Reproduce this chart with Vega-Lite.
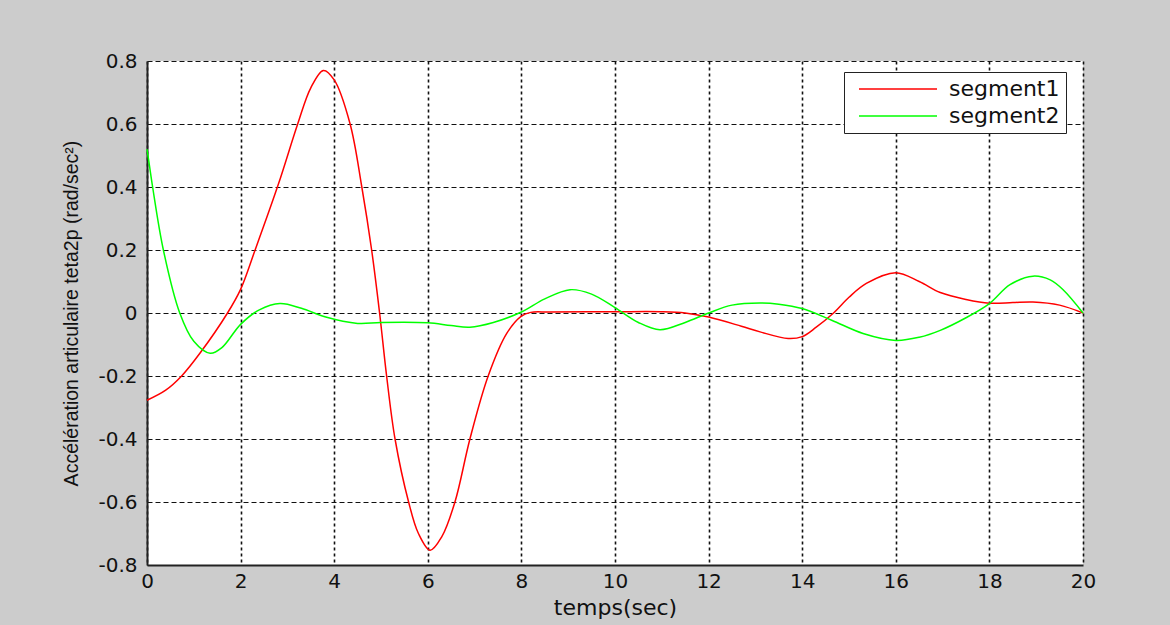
{
  "$schema": "https://vega.github.io/schema/vega-lite/v6.json",
  "width": 936,
  "height": 504,
  "autosize": {"type": "none"},
  "padding": {"left": 147, "top": 61, "right": 87, "bottom": 60},
  "background": "#cccccc",
  "config": {
    "view": {"fill": "white", "stroke": null},
    "axis": {"labelColor": "#111", "titleColor": "#111", "domainColor": "#222", "gridColor": "#111", "gridOpacity": 1, "ticks": false}
  },
  "data": {"values": [
    {"t": 0, "v": -0.277, "s": "segment1"},
    {"t": 0.4, "v": -0.245, "s": "segment1"},
    {"t": 0.74, "v": -0.2, "s": "segment1"},
    {"t": 1.13, "v": -0.128, "s": "segment1"},
    {"t": 1.72, "v": 0, "s": "segment1"},
    {"t": 2.0, "v": 0.075, "s": "segment1"},
    {"t": 2.31, "v": 0.2, "s": "segment1"},
    {"t": 2.81, "v": 0.41, "s": "segment1"},
    {"t": 3.22, "v": 0.6, "s": "segment1"},
    {"t": 3.5, "v": 0.715, "s": "segment1"},
    {"t": 3.77, "v": 0.77, "s": "segment1"},
    {"t": 4.0, "v": 0.74, "s": "segment1"},
    {"t": 4.34, "v": 0.6, "s": "segment1"},
    {"t": 4.59, "v": 0.4, "s": "segment1"},
    {"t": 4.8, "v": 0.2, "s": "segment1"},
    {"t": 4.97, "v": 0, "s": "segment1"},
    {"t": 5.12, "v": -0.2, "s": "segment1"},
    {"t": 5.3, "v": -0.4, "s": "segment1"},
    {"t": 5.59, "v": -0.6, "s": "segment1"},
    {"t": 5.8, "v": -0.7, "s": "segment1"},
    {"t": 6.05, "v": -0.753, "s": "segment1"},
    {"t": 6.3, "v": -0.71, "s": "segment1"},
    {"t": 6.58, "v": -0.6, "s": "segment1"},
    {"t": 6.9, "v": -0.4, "s": "segment1"},
    {"t": 7.29, "v": -0.2, "s": "segment1"},
    {"t": 7.69, "v": -0.064, "s": "segment1"},
    {"t": 8.0, "v": -0.01, "s": "segment1"},
    {"t": 8.2, "v": 0.002, "s": "segment1"},
    {"t": 8.6, "v": 0.003, "s": "segment1"},
    {"t": 10, "v": 0.004, "s": "segment1"},
    {"t": 11, "v": 0.004, "s": "segment1"},
    {"t": 11.5, "v": 0.0, "s": "segment1"},
    {"t": 12, "v": -0.013, "s": "segment1"},
    {"t": 12.7, "v": -0.042, "s": "segment1"},
    {"t": 13.1, "v": -0.06, "s": "segment1"},
    {"t": 13.7, "v": -0.081, "s": "segment1"},
    {"t": 14.0, "v": -0.075, "s": "segment1"},
    {"t": 14.3, "v": -0.045, "s": "segment1"},
    {"t": 14.67, "v": 0, "s": "segment1"},
    {"t": 15.0, "v": 0.05, "s": "segment1"},
    {"t": 15.37, "v": 0.094, "s": "segment1"},
    {"t": 16.0, "v": 0.128, "s": "segment1"},
    {"t": 16.5, "v": 0.1, "s": "segment1"},
    {"t": 16.95, "v": 0.065, "s": "segment1"},
    {"t": 17.5, "v": 0.043, "s": "segment1"},
    {"t": 18.0, "v": 0.031, "s": "segment1"},
    {"t": 18.5, "v": 0.033, "s": "segment1"},
    {"t": 18.93, "v": 0.035, "s": "segment1"},
    {"t": 19.5, "v": 0.025, "s": "segment1"},
    {"t": 20, "v": 0, "s": "segment1"},
    {"t": 0, "v": 0.52, "s": "segment2"},
    {"t": 0.05, "v": 0.47, "s": "segment2"},
    {"t": 0.12, "v": 0.4, "s": "segment2"},
    {"t": 0.35, "v": 0.2, "s": "segment2"},
    {"t": 0.7, "v": 0, "s": "segment2"},
    {"t": 1.0, "v": -0.09, "s": "segment2"},
    {"t": 1.35, "v": -0.128, "s": "segment2"},
    {"t": 1.6, "v": -0.11, "s": "segment2"},
    {"t": 2.0, "v": -0.036, "s": "segment2"},
    {"t": 2.4, "v": 0.01, "s": "segment2"},
    {"t": 2.84, "v": 0.03, "s": "segment2"},
    {"t": 3.3, "v": 0.015, "s": "segment2"},
    {"t": 3.8, "v": -0.012, "s": "segment2"},
    {"t": 4.5, "v": -0.033, "s": "segment2"},
    {"t": 5.0, "v": -0.03, "s": "segment2"},
    {"t": 6.0, "v": -0.031, "s": "segment2"},
    {"t": 6.5, "v": -0.04, "s": "segment2"},
    {"t": 6.9, "v": -0.045, "s": "segment2"},
    {"t": 7.4, "v": -0.03, "s": "segment2"},
    {"t": 8.0, "v": 0.003, "s": "segment2"},
    {"t": 8.5, "v": 0.045, "s": "segment2"},
    {"t": 9.04, "v": 0.074, "s": "segment2"},
    {"t": 9.5, "v": 0.06, "s": "segment2"},
    {"t": 10.0, "v": 0.017, "s": "segment2"},
    {"t": 10.5, "v": -0.03, "s": "segment2"},
    {"t": 10.96, "v": -0.053, "s": "segment2"},
    {"t": 11.5, "v": -0.03, "s": "segment2"},
    {"t": 12.0, "v": 0, "s": "segment2"},
    {"t": 12.5, "v": 0.025, "s": "segment2"},
    {"t": 13.1, "v": 0.032, "s": "segment2"},
    {"t": 13.5, "v": 0.028, "s": "segment2"},
    {"t": 14.0, "v": 0.014, "s": "segment2"},
    {"t": 14.63, "v": -0.023, "s": "segment2"},
    {"t": 15.3, "v": -0.065, "s": "segment2"},
    {"t": 16.0, "v": -0.087, "s": "segment2"},
    {"t": 16.5, "v": -0.077, "s": "segment2"},
    {"t": 16.95, "v": -0.055, "s": "segment2"},
    {"t": 17.5, "v": -0.015, "s": "segment2"},
    {"t": 18.0, "v": 0.03, "s": "segment2"},
    {"t": 18.44, "v": 0.09, "s": "segment2"},
    {"t": 18.93, "v": 0.117, "s": "segment2"},
    {"t": 19.3, "v": 0.105, "s": "segment2"},
    {"t": 19.58, "v": 0.073, "s": "segment2"},
    {"t": 20, "v": 0, "s": "segment2"}
  ]},
  "mark": {"type": "line", "strokeWidth": 1.5, "interpolate": "catmull-rom"},
  "encoding": {
    "x": {
      "field": "t", "type": "quantitative",
      "scale": {"domain": [0, 20], "nice": false, "zero": false},
      "axis": {
        "values": [0, 2, 4, 6, 8, 10, 12, 14, 16, 18, 20],
        "title": "temps(sec)",
        "titleFont": "DejaVu Sans", "titleFontSize": 22, "titleFontWeight": "normal", "titlePadding": 6,
        "labelFont": "DejaVu Sans", "labelFontSize": 20, "labelPadding": 6, "labelFlush": false,
        "grid": true, "gridDash": [3, 3], "gridWidth": 1.6,
        "domain": true, "domainWidth": 2
      }
    },
    "y": {
      "field": "v", "type": "quantitative",
      "scale": {"domain": [-0.8, 0.8], "nice": false, "zero": false},
      "axis": {
        "values": [-0.8, -0.6, -0.4, -0.2, 0, 0.2, 0.4, 0.6, 0.8],
        "labelExpr": "datum.value < 0 ? '-' + format(-datum.value, '.1f') : (datum.value == 0 ? '0' : format(datum.value, '.1f'))",
        "title": "Accélération articulaire teta2p (rad/sec²)",
        "titleFont": "Liberation Sans", "titleFontSize": 19.5, "titleFontWeight": "normal", "titlePadding": 16,
        "labelFont": "DejaVu Sans", "labelFontSize": 20, "labelPadding": 10, "labelFlush": false,
        "grid": true, "gridDash": [5, 3], "gridWidth": 1,
        "domain": true, "domainWidth": 2
      }
    },
    "color": {
      "field": "s", "type": "nominal",
      "scale": {"domain": ["segment1", "segment2"], "range": ["#ff0000", "#00ff00"]},
      "legend": {
        "title": null,
        "orient": "none", "legendX": 697, "legendY": 11,
        "fillColor": "white", "strokeColor": "#222",
        "padding": 6,
        "symbolType": "M-6,0H6", "symbolSize": 169, "symbolStrokeWidth": 1.5,
        "symbolOffset": 37,
        "labelFont": "DejaVu Sans", "labelFontSize": 22, "labelColor": "#111", "labelOffset": 40,
        "rowPadding": 5
      }
    }
  }
}
